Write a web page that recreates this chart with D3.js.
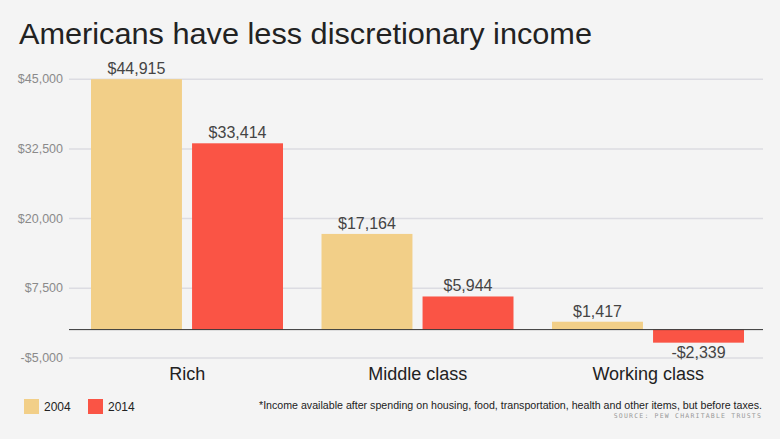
<!DOCTYPE html>
<html><head><meta charset="utf-8">
<script src="https://cdn.jsdelivr.net/npm/d3@7"></script>
<style>
html,body{margin:0;padding:0;background:#f4f4f4;}
svg{display:block;}
</style></head>
<body>
<svg id="c" width="780" height="439"></svg>
<script>
const categories = ["Rich", "Middle class", "Working class"];
const years = ["2004", "2014"];
const values2004 = [44915, 17164, 1417];
const values2014 = [33414, 5944, -2339];
const yTicks = [-5000, 7500, 20000, 32500, 45000];
const colors = ["#f2cf88", "#fa5445"];

const svg = d3.select("#c");
const W = 780, H = 439;
svg.append("rect").attr("width", W).attr("height", H).attr("fill", "#f4f4f4");

const left = 69, right = 763;
const y = d3.scaleLinear().domain([-5000, 45000]).range([357.5, 78.7]);
const x0 = d3.scaleBand().domain(categories).range([72, 763.5]).padding(0);
const x1 = d3.scaleBand().domain(years).range([19, 211]).paddingInner(0.1);

const font = "'Liberation Sans', Arial, Helvetica, sans-serif";

// title
svg.append("text").attr("x", 19).attr("y", 44)
  .attr("font-family", font).attr("font-size", 29).attr("fill", "#222")
  .attr("textLength", 573).attr("lengthAdjust", "spacingAndGlyphs")
  .text("Americans have less discretionary income");

// grid
const yAxis = d3.axisLeft(y).tickValues(yTicks).tickSize(-(right - left))
  .tickFormat(d => (d < 0 ? "-$" : "$") + d3.format(",")(Math.abs(d)));
const g = svg.append("g").attr("transform", `translate(${left},0)`).call(yAxis);
g.select(".domain").remove();
g.selectAll(".tick line").attr("stroke", "#dcdce2").attr("stroke-width", 1.5);
g.selectAll(".tick text").attr("x", -6).attr("font-family", font)
  .attr("font-size", 12.5).attr("fill", "#8a8a8a");

// bars
const data = categories.map((c, i) => ({cat: c, vals: [
  {year: years[0], v: values2004[i]}, {year: years[1], v: values2014[i]}]}));
const groups = svg.selectAll(".grp").data(data).enter().append("g")
  .attr("transform", d => `translate(${x0(d.cat)},0)`);
groups.selectAll("rect").data(d => d.vals).enter().append("rect")
  .attr("x", d => x1(d.year)).attr("width", x1.bandwidth())
  .attr("y", d => y(Math.max(0, d.v)))
  .attr("height", d => Math.abs(y(d.v) - y(0)))
  .attr("fill", (d, i) => colors[i]);
groups.selectAll(".lbl").data(d => d.vals).enter().append("text")
  .attr("x", d => x1(d.year) + x1.bandwidth() / 2)
  .attr("y", d => d.v >= 0 ? y(d.v) - 5 : y(d.v) + 15)
  .attr("text-anchor", "middle").attr("font-family", font)
  .attr("font-size", 16).attr("fill", "#444")
  .text(d => (d.v < 0 ? "-$" : "$") + d3.format(",")(Math.abs(d.v)));

// zero line
svg.append("line").attr("x1", left).attr("x2", right)
  .attr("y1", y(0)).attr("y2", y(0)).attr("stroke", "#333").attr("stroke-width", 1);

// category labels
svg.selectAll(".cat").data(categories).enter().append("text")
  .attr("x", d => x0(d) + x0.bandwidth() / 2).attr("y", 380)
  .attr("text-anchor", "middle").attr("font-family", font)
  .attr("font-size", 18).attr("fill", "#222").text(d => d);

// legend
const leg = svg.selectAll(".leg").data(years).enter().append("g")
  .attr("transform", (d, i) => `translate(${24 + i * 64},399)`);
leg.append("rect").attr("width", 15).attr("height", 15)
  .attr("fill", (d, i) => colors[i]);
leg.append("text").attr("x", 20).attr("y", 12).attr("font-family", font)
  .attr("font-size", 12).attr("fill", "#222").text(d => d);

// footnote
svg.append("text").attr("x", 762).attr("y", 409).attr("text-anchor", "end")
  .attr("font-family", font).attr("font-size", 10.5).attr("fill", "#222")
  .attr("textLength", 503).attr("lengthAdjust", "spacingAndGlyphs")
  .text("*Income available after spending on housing, food, transportation, health and other items, but before taxes.");
svg.append("text").attr("x", 762).attr("y", 418).attr("text-anchor", "end")
  .attr("font-family", "'DejaVu Sans Mono', monospace").attr("font-size", 6.5)
  .attr("letter-spacing", 1.2).attr("fill", "#999")
  .text("SOURCE: PEW CHARITABLE TRUSTS");
</script>
</body></html>
